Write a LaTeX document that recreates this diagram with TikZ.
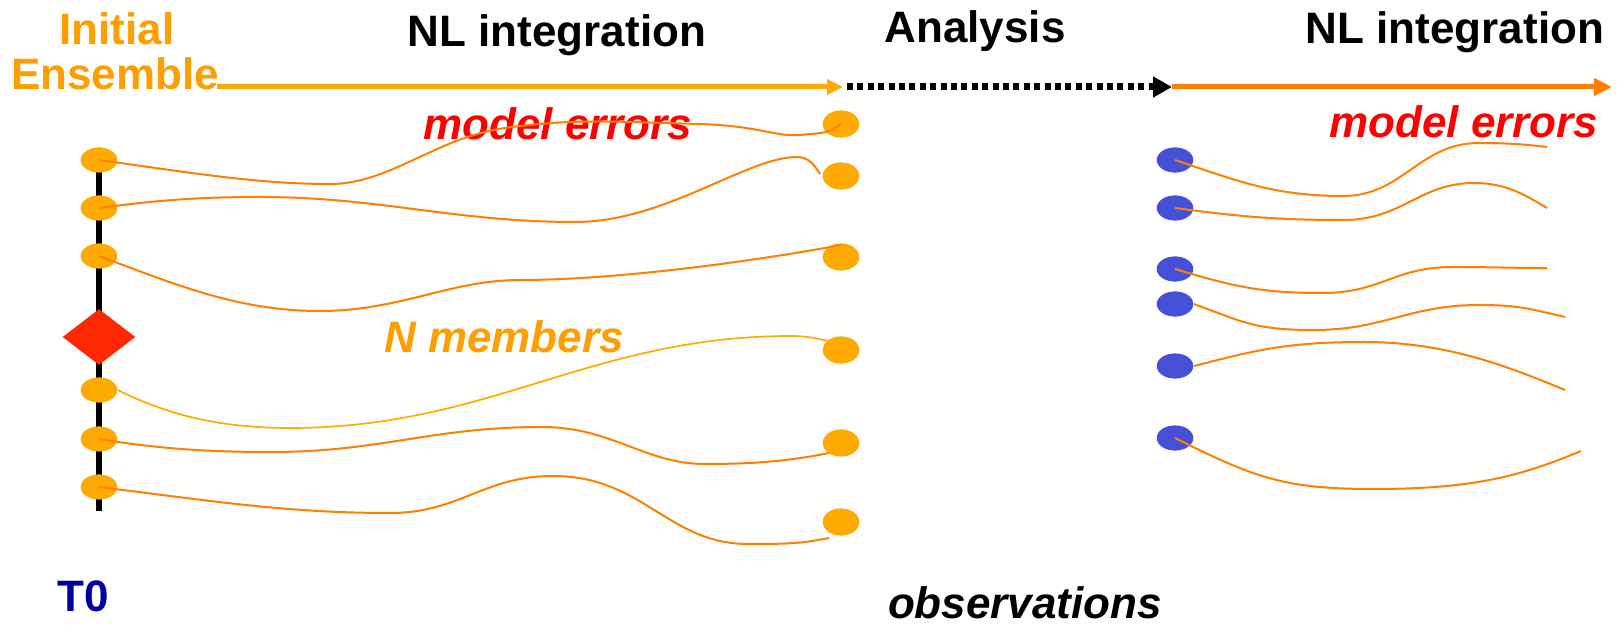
\documentclass[tikz,border=0pt]{standalone}
\usepackage{fontspec}
\setmainfont{Liberation Sans}
\usetikzlibrary{shapes.geometric,arrows.meta}
\definecolor{initOrange}{RGB}{255,158,0}
\definecolor{arrOrange}{RGB}{255,168,0}
\definecolor{dotOrange}{RGB}{255,170,0}
\definecolor{curveOrange}{RGB}{255,128,0}
\definecolor{lightCurve}{RGB}{255,172,0}
\definecolor{errRed}{RGB}{255,0,0}
\definecolor{diaRed}{RGB}{255,40,0}
\definecolor{obsBlue}{RGB}{70,80,214}
\definecolor{tBlue}{RGB}{0,0,160}
\begin{document}
\begin{tikzpicture}[x=0.5pt,y=-0.5pt,
  lbl/.style={font=\fontsize{22}{26}\selectfont\bfseries, inner sep=0pt, anchor=base},
  ilbl/.style={lbl, font=\fontsize{22}{26}\selectfont\bfseries\itshape},
  odot/.style={ellipse, fill=dotOrange, draw=none, inner sep=0pt, minimum width=18.3pt, minimum height=12.6pt},
  rdot/.style={ellipse, fill=dotOrange, draw=none, inner sep=0pt, minimum width=18.3pt, minimum height=13.6pt},
  bdot/.style={ellipse, fill=obsBlue, draw=none, inner sep=0pt, minimum width=18.3pt, minimum height=12.6pt},
  traj/.style={draw=curveOrange, line width=1pt},
  ltraj/.style={draw=lightCurve, line width=0.85pt}
]
\useasboundingbox (0,0) rectangle (1619,625);

% texts
\node[lbl, text=initOrange] (t1) at (117,45) {Initial};
\node[lbl, text=initOrange] (t2) at (115,90) {Ensemble};
\node[lbl] (nl1) at (557,47) {NL integration};
\node[lbl] (an) at (975,43) {Analysis};
\node[lbl] (nl2) at (1455,44) {NL integration};
\node[ilbl, text=errRed] (me1) at (558,140) {model errors};
\node[ilbl, text=errRed] (me2) at (1464,138) {model errors};
\node[ilbl, text=initOrange] (nm) at (504,353) {N members};
\node[lbl, text=tBlue] (t0) at (83,612) {T0};
\node[ilbl] (obs) at (1025,619) {observations};

% time arrows
\coordinate (a0) at (217,87);
\coordinate (a1) at (843,87);
\coordinate (a2) at (1172,87);
\coordinate (a3) at (1612,87);
\draw[arrOrange, line width=2.5pt, -{Triangle[length=8pt,width=7.5pt]}] (a0) -- (a1);
\draw[black, line width=3.5pt, dash pattern=on 3pt off 2.2pt, -{Triangle[length=9.5pt,width=10pt]}] ([xshift=2pt]a1) -- (a2);
\draw[curveOrange, line width=2.5pt, -{Triangle[length=9pt,width=8.5pt]}] (a2) -- (a3);

% initial time axis
\coordinate (v0) at (99,155);
\coordinate (v1) at (99,511);
\draw[black, line width=3pt] (v0) -- (v1);

% left ensemble
\node[odot] (ls1) at (99,160) {};
\node[odot] (ls2) at (99,208) {};
\node[odot] (ls3) at (99,256) {};
\node[odot] (ls4) at (99,390) {};
\node[odot] (ls5) at (99,439) {};
\node[odot] (ls6) at (99,487) {};
\node[diamond, fill=diaRed, draw=none, inner sep=0pt, minimum width=36.5pt, minimum height=28pt] (dia) at (99,337) {};

% right ensemble (end of integration)
\node[rdot] (rs1) at (841,124) {};
\node[rdot] (rs2) at (841,176) {};
\node[rdot] (rs3) at (841,257) {};
\node[rdot] (rs4) at (841,350) {};
\node[rdot] (rs5) at (841,443) {};
\node[rdot] (rs6) at (841,522) {};

% analysis members
\node[bdot] (b1) at (1175,160) {};
\node[bdot] (b2) at (1175,208) {};
\node[bdot] (b3) at (1175,269) {};
\node[bdot] (b4) at (1175,304) {};
\node[bdot] (b5) at (1175,366) {};
\node[bdot] (b6) at (1175,438) {};

% trajectories, left
\draw[traj] (ls1.center) .. controls +(100,14) and +(-70,0) .. (330,184)
  .. controls +(60,0) and +(-70,10) .. (505,128)
  .. controls +(70,-10) and +(-80,-2) .. (700,124)
  .. controls +(60,2) and +(-25,2) .. (800,135)
  .. controls +(20,-2) and +(-12,10) .. (rs1.center);
\draw[traj] (ls2.center) .. controls +(60,-8) and +(-60,0) .. (260,197)
  .. controls +(120,0) and +(-120,0) .. (575,222)
  .. controls +(90,0) and +(-50,0) .. (797,157)
  .. controls +(12,0) and +(-5,-8) .. (820,174);
\draw[traj] (ls3.center) .. controls +(80,30) and +(-80,0) .. (320,311)
  .. controls +(80,0) and +(-70,0) .. (520,280)
  .. controls +(100,0) and +(-80,15) .. (841,245);
\draw[ltraj] (ls4.east) .. controls +(50,25) and +(-70,0) .. (290,428)
  .. controls +(200,0) and +(-200,0) .. (791,336)
  .. controls +(15,0) and +(-15,-3) .. (829,341);
\draw[traj] (ls5.center) .. controls +(60,10) and +(-60,0) .. (271,452)
  .. controls +(110,0) and +(-110,0) .. (542,427)
  .. controls +(70,0) and +(-60,0) .. (705,464)
  .. controls +(50,0) and +(-40,8) .. (829,453);
\draw[traj] (ls6.center) .. controls +(120,15) and +(-100,0) .. (390,513)
  .. controls +(70,0) and +(-70,0) .. (553,476)
  .. controls +(90,0) and +(-80,0) .. (748,544)
  .. controls +(35,0) and +(-30,6) .. (829,538);

% trajectories, right
\draw[traj] (b1.center) .. controls +(60,20) and +(-70,0) .. (1343,196)
  .. controls +(60,0) and +(-60,0) .. (1479,143)
  .. controls +(25,0) and +(-25,-3) .. (1547,147);
\draw[traj] (b2.center) .. controls +(60,8) and +(-70,0) .. (1343,220)
  .. controls +(60,0) and +(-55,0) .. (1474,183)
  .. controls +(30,0) and +(-25,-15) .. (1547,208);
\draw[traj] (b3.center) .. controls +(60,18) and +(-60,0) .. (1322,293)
  .. controls +(60,0) and +(-60,0) .. (1453,267)
  .. controls +(40,0) and +(-40,0) .. (1547,268);
\draw[traj] (b4.east) .. controls +(50,18) and +(-60,0) .. (1314,330)
  .. controls +(70,0) and +(-70,0) .. (1479,305)
  .. controls +(40,0) and +(-35,-8) .. (1565,317);
\draw[traj] (b5.east) .. controls +(60,-15) and +(-80,0) .. (1364,342)
  .. controls +(80,0) and +(-60,-25) .. (1565,390);
\draw[traj] (b6.center) .. controls +(80,40) and +(-90,0) .. (1374,489)
  .. controls +(100,0) and +(-60,25) .. (1581,451);
\end{tikzpicture}
\end{document}
